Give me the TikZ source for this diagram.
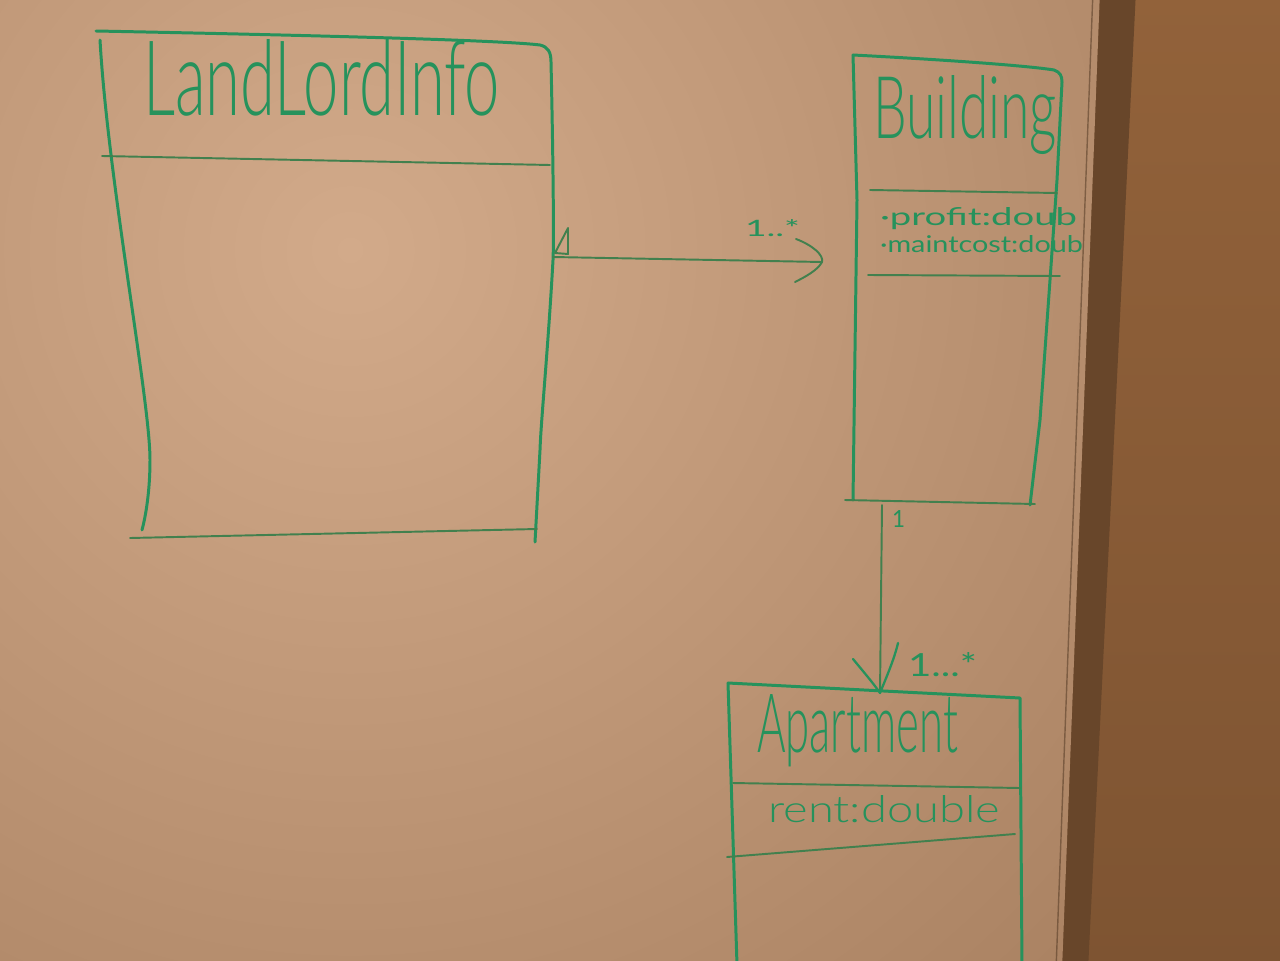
\documentclass[tikz,border=0pt]{standalone}
\usepackage{fontspec}
\setmainfont{Lato}
\newfontfamily\markerfont{Lato Light}
\usepackage{graphicx}
\usetikzlibrary{shadings}
% one unit of the drawing grid
\newlength\px
\setlength\px{0.02cm}
% marker lettering: text stretched to a given width and height (in grid units)
\newcommand\hw[3]{\resizebox{#1\px}{#2\px}{\markerfont #3}}
% small marker lettering, drawn with a heavier stroke
\newcommand\hws[3]{\resizebox{#1\px}{#2\px}{#3}}
\definecolor{ink}{RGB}{38,146,92}
\definecolor{inkthin}{RGB}{66,128,78}
\definecolor{wall}{RGB}{146,98,58}
\definecolor{walldark}{RGB}{126,84,50}
\definecolor{frame}{RGB}{104,70,42}
\definecolor{boardIn}{RGB}{210,170,138}
\definecolor{boardOut}{RGB}{132,92,60}
\begin{document}
\begin{tikzpicture}[x=0.02cm,y=-0.02cm,
  pen/.style={draw=ink,line width=1.7pt,line cap=round,line join=round},
  thinpen/.style={draw=inkthin,line width=1.1pt,line cap=round,line join=round},
  lettering/.style={inner sep=0pt,outer sep=0pt,text=ink,anchor=base west}]
\useasboundingbox (0,0) rectangle (1280,960);

% wall, board frame and board surface
\shade[top color=wall,bottom color=walldark] (-10,-10) rectangle (1290,970);
\fill[frame] (1098,-10) -- (1136,-10) -- (1088,970) -- (1060,970) -- cycle;
\begin{scope}
  \clip (-10,-10) -- (1100,-10) -- (1062,970) -- (-10,970) -- cycle;
  \shade[inner color=boardIn,outer color=boardOut] (350,250) circle[radius=2000];
\end{scope}
\draw[draw=frame!70!black,opacity=0.5,line width=0.8pt] (1093,-10) -- (1056,970);

% ---- LandLordInfo class ----
\draw[pen] (96,31) .. controls (300,35) and (500,40) .. (540,45)
  .. controls (548,47) and (551,52) .. (551,62)
  .. controls (553,150) and (554,240) .. (553,260)
  .. controls (548,350) and (541,420) .. (540,450) -- (535,542);
\draw[pen] (100,40) .. controls (108,180) and (150,400) .. (150,460)
  .. controls (150,490) and (146,515) .. (142,530);
\draw[thinpen] (130,538) -- (537,529);
\draw[thinpen] (102,156) -- (550,165);
\node[lettering] (llTitle) at (143,115) {\hw{357}{76}{LandLordInfo}};
\coordinate (llPort) at (553,257);

% ---- Building class ----
\draw[pen] (853,55) .. controls (950,60) and (1030,66) .. (1054,70)
  .. controls (1060,72) and (1062,76) .. (1062,82)
  -- (1057,180) -- (1050,280) -- (1040,420) -- (1030,505);
\draw[pen] (853,55) -- (857,200) -- (853,500);
\draw[thinpen] (845,500) -- (1035,504);
\draw[thinpen] (870,190) -- (1057,193);
\draw[thinpen] (868,275) -- (1060,276);
\node[lettering] (bTitle) at (873,138) {\hw{184}{63}{Building}};
\node[lettering] (bAttrA) at (880,225) {\hws{197}{18}{\textperiodcentered profit:doub}};
\node[lettering] (bAttrB) at (880,252) {\hws{203}{17}{\textperiodcentered maintcost:doub}};
\coordinate (bPort) at (822,262);
\coordinate (bBottom) at (882,505);

% ---- Apartment class ----
\draw[pen] (728,683) -- (1020,698) -- (1022,965);
\draw[pen] (728,683) -- (737,965);
\draw[thinpen] (733,783) -- (1020,788);
\draw[thinpen] (727,857) -- (1015,834);
\node[lettering] (aTitle) at (757,752) {\hw{201}{58}{Apartment}};
\node[lettering] (aAttr) at (768,822) {\hw{232}{27}{rent:double}};
\coordinate (aTop) at (880,693);

% ---- association LandLordInfo -> Building ----
\draw[thinpen] (llPort) -- (bPort);
\draw[thinpen] (bPort) ++(-26,-23) .. controls +(16,6) and +(2,-7) .. (bPort)
  .. controls +(-4,8) and +(10,-5) .. ++(-27,20);
\draw[thinpen] (568,228) -- (568,254) -- (555,253) -- cycle;
\node[lettering] (mBuild) at (745,236) {\hws{55}{17}{1..*}};

% ---- association Building -> Apartment ----
\draw[thinpen] (bBottom) -- (aTop);
\draw[pen,line width=1.3pt] (853,659) .. controls (862,670) and (874,684) .. (aTop)
  .. controls (886,678) and (894,660) .. (898,643);
\node[lettering] (mOne) at (892,527) {\hws{13}{17}{1}};
\node[lettering] (mApt) at (908,676) {\hws{69}{24}{1...*}};
\end{tikzpicture}
\end{document}
